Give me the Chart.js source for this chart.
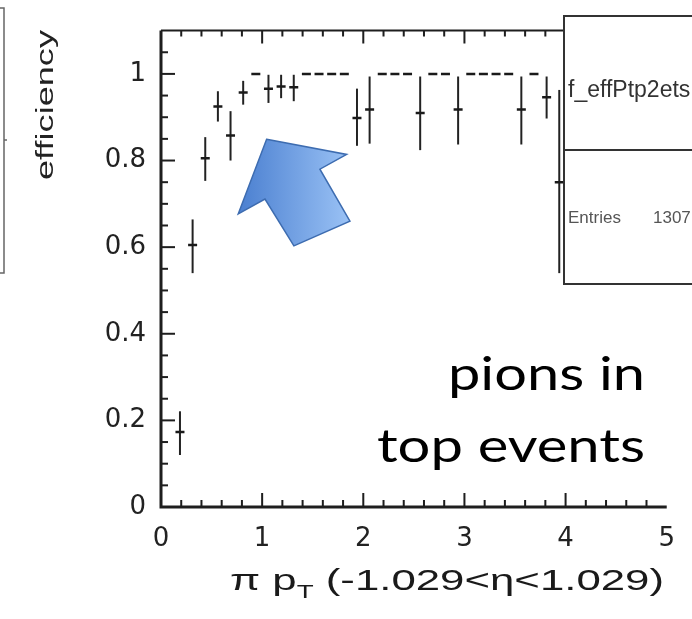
<!DOCTYPE html>
<html>
<head>
<meta charset="utf-8">
<script src="https://cdn.jsdelivr.net/npm/chart.js@4.4.1/dist/chart.umd.min.js"></script>
<style>
  html, body { margin: 0; padding: 0; background: #fff; }
  #wrap { width: 692px; height: 619px; overflow: hidden; }
</style>
</head>
<body>
<div id="wrap"><canvas id="eff-chart" width="692" height="619"></canvas></div>
<script>
// pion pT bin centres and measured efficiency (with lower / upper error bounds)
const ptBins = [0.1875, 0.3125, 0.4375, 0.5625, 0.6875, 0.8125, 0.9375, 1.0625, 1.1875, 1.3125,
  1.4375, 1.5625, 1.6875, 1.8125, 1.9375, 2.0625, 2.1875, 2.3125, 2.4375, 2.5625,
  2.6875, 2.8125, 2.9375, 3.0625, 3.1875, 3.3125, 3.4375, 3.5625, 3.6875, 3.8125, 3.9375];
const efficiency = [0.173, 0.605, 0.805, 0.925, 0.858, 0.957, 1.0, 0.966, 0.971, 0.969,
  1.0, 1.0, 1.0, 1.0, 0.898, 0.918, 1.0, 1.0, 1.0, 0.910,
  1.0, 1.0, 0.918, 1.0, 1.0, 1.0, 1.0, 0.918, 1.0, 0.946, 0.750];
const effLow = [0.120, 0.540, 0.753, 0.890, 0.800, 0.929, 1.0, 0.933, 0.944, 0.937,
  1.0, 1.0, 1.0, 1.0, 0.834, 0.839, 1.0, 1.0, 1.0, 0.824,
  1.0, 1.0, 0.837, 1.0, 1.0, 1.0, 1.0, 0.837, 1.0, 0.897, 0.540];
const effHigh = [0.221, 0.664, 0.854, 0.960, 0.914, 0.984, 1.0, 0.998, 0.998, 0.998,
  1.0, 1.0, 1.0, 1.0, 0.966, 0.994, 1.0, 1.0, 1.0, 0.994,
  1.0, 1.0, 0.994, 1.0, 1.0, 1.0, 1.0, 0.994, 1.0, 0.994, 0.963];

const xTicks = [0, 1, 2, 3, 4, 5];
const xTickLabels = ['0', '1', '2', '3', '4', '5'];
const yTicks = [0, 0.2, 0.4, 0.6, 0.8, 1];
const yTickLabels = ['0', '0.2', '0.4', '0.6', '0.8', '1'];

// blue arrow annotation, in data units (pT, efficiency)
const arrowShape = [[1.044, 0.849], [1.835, 0.814], [1.571, 0.780], [1.868, 0.660],
  [1.314, 0.603], [1.028, 0.711], [0.764, 0.677]];

const labelFont = '"Liberation Sans", Arial, sans-serif';
const tickFont = '"DejaVu Sans", "Liberation Sans", sans-serif';

// frame with ROOT style inward ticks
const rootFrame = {
  id: 'rootFrame',
  beforeDatasetsDraw(chart) {
    const { ctx, chartArea: a, scales: { x, y } } = chart;
    ctx.save();
    ctx.strokeStyle = '#1e1e1e';
    ctx.lineWidth = 2;
    ctx.beginPath();
    ctx.moveTo(a.left, a.top); ctx.lineTo(a.right, a.top);
    ctx.stroke();
    ctx.lineWidth = 3;
    ctx.beginPath();
    ctx.moveTo(a.left, a.top); ctx.lineTo(a.left, a.bottom); ctx.lineTo(a.right, a.bottom);
    ctx.stroke();

    ctx.lineWidth = 2;
    for (let i = 1; i < 25; i++) {
      const px = x.getPixelForValue(i * 0.2);
      const len = i % 5 === 0 ? 14 : 7;
      ctx.beginPath();
      ctx.moveTo(px, a.bottom); ctx.lineTo(px, a.bottom - len);
      ctx.moveTo(px, a.top); ctx.lineTo(px, a.top + len - 1);
      ctx.stroke();
    }
    for (let i = 1; i < 22; i++) {
      const py = y.getPixelForValue(i * 0.05);
      const len = i % 4 === 0 ? 14 : 7;
      ctx.beginPath();
      ctx.moveTo(a.left, py); ctx.lineTo(a.left + len, py);
      ctx.stroke();
    }
    ctx.restore();
  }
};

// vertical error bars
const errorBars = {
  id: 'errorBars',
  beforeDatasetsDraw(chart) {
    const { ctx, scales: { x, y } } = chart;
    ctx.save();
    ctx.strokeStyle = '#222';
    ctx.lineWidth = 2;
    ptBins.forEach((v, i) => {
      if (effHigh[i] - effLow[i] <= 0) return;
      const px = x.getPixelForValue(v);
      ctx.beginPath();
      ctx.moveTo(px, y.getPixelForValue(effLow[i]));
      ctx.lineTo(px, y.getPixelForValue(effHigh[i]));
      ctx.stroke();
    });
    ctx.restore();
  }
};

function stretchedText(ctx, text, left, base, width, font) {
  ctx.font = font;
  const w = ctx.measureText(text).width;
  ctx.save();
  ctx.translate(left, base);
  ctx.scale(width / w, 1);
  ctx.textAlign = 'left';
  ctx.textBaseline = 'alphabetic';
  ctx.fillText(text, 0, 0);
  ctx.restore();
}

// arrow, caption, stats box and axis titles
const overlay = {
  id: 'overlay',
  afterDraw(chart) {
    const { ctx, scales: { x, y } } = chart;
    ctx.save();

    // x axis title with subscript T
    ctx.fillStyle = '#1a1a1a';
    const f1 = '30px ' + labelFont, f2 = '19px ' + labelFont;
    const parts = [['\u03c0 p', f1, 0], ['T', f2, 8], [' (-1.029<\u03b7<1.029)', f1, 0]];
    let total = 0;
    parts.forEach(p => { ctx.font = p[1]; total += ctx.measureText(p[0]).width; });
    const sx = 434 / total;
    ctx.translate(230, 590);
    ctx.scale(sx, 1);
    let cx = 0;
    parts.forEach(p => {
      ctx.font = p[1];
      ctx.fillText(p[0], cx, p[2]);
      cx += ctx.measureText(p[0]).width;
    });
    ctx.restore();

    // y axis title, rotated, top aligned
    ctx.save();
    ctx.fillStyle = '#222';
    ctx.translate(53, 180);
    ctx.rotate(-Math.PI / 2);
    stretchedText(ctx, 'efficiency', 0, 0, 150, '23px ' + labelFont);
    ctx.restore();

    // blue arrow
    ctx.save();
    const pts = arrowShape.map(p => [x.getPixelForValue(p[0]), y.getPixelForValue(p[1])]);
    const g = ctx.createLinearGradient(pts[6][0], 0, pts[1][0], 0);
    g.addColorStop(0, '#4a7fd0');
    g.addColorStop(1, '#98c0f4');
    ctx.beginPath();
    pts.forEach((p, i) => i ? ctx.lineTo(p[0], p[1]) : ctx.moveTo(p[0], p[1]));
    ctx.closePath();
    ctx.fillStyle = g;
    ctx.fill();
    ctx.strokeStyle = '#3d6cb0';
    ctx.lineWidth = 1.5;
    ctx.stroke();
    ctx.restore();

    // caption
    ctx.save();
    ctx.fillStyle = '#000';
    stretchedText(ctx, 'pions in', 448, 390, 197, '46px Lato, "Open Sans", sans-serif');
    stretchedText(ctx, 'top events', 377, 462, 268, '46px Lato, "Open Sans", sans-serif');
    ctx.restore();

    // stats box
    ctx.save();
    ctx.fillStyle = '#fff';
    ctx.fillRect(564, 16, 140, 268);
    ctx.strokeStyle = '#333';
    ctx.lineWidth = 2;
    ctx.strokeRect(564, 16, 140, 268);
    ctx.beginPath();
    ctx.moveTo(564, 150); ctx.lineTo(692, 150);
    ctx.stroke();
    ctx.fillStyle = '#333';
    ctx.textBaseline = 'alphabetic';
    ctx.font = '23px ' + labelFont;
    ctx.fillText('f_effPtp2ets', 568, 97);
    ctx.font = '17px ' + labelFont;
    ctx.fillStyle = '#555';
    ctx.fillText('Entries', 568, 223);
    ctx.fillText('1307', 653, 223);

    // edge of neighbouring pad on the left
    ctx.strokeStyle = '#666';
    ctx.lineWidth = 1.5;
    ctx.beginPath();
    ctx.moveTo(-2, 8); ctx.lineTo(4, 8); ctx.lineTo(4, 273); ctx.lineTo(-2, 273);
    ctx.moveTo(4, 140); ctx.lineTo(7, 140);
    ctx.stroke();
    ctx.restore();
  }
};

const ctx = document.getElementById('eff-chart').getContext('2d');
const effChart = new Chart(ctx, {
  type: 'scatter',
  data: {
    datasets: [{
      label: 'f_effPtp2ets',
      data: ptBins.map((v, i) => ({ x: v, y: efficiency[i] })),
      pointStyle: 'line',
      pointRadius: 4.5,
      borderWidth: 2.5,
      borderColor: '#1a1a1a',
      backgroundColor: '#1a1a1a',
      showLine: false
    }]
  },
  options: {
    responsive: false,
    animation: false,
    devicePixelRatio: 1,
    layout: { padding: { top: 28, right: 25, left: 0, bottom: 0 } },
    plugins: { legend: { display: false }, tooltip: { enabled: false } },
    scales: {
      x: {
        type: 'linear',
        min: 0,
        max: 5,
        grid: { display: false, drawTicks: false },
        border: { display: false },
        afterBuildTicks: s => { s.ticks = xTicks.map(v => ({ value: v })); },
        afterFit: s => { s.height = 112; },
        ticks: {
          font: { family: tickFont, size: 26 },
          color: '#222',
          padding: 17,
          maxRotation: 0,
          autoSkip: false,
          callback: (v, i) => xTickLabels[i]
        }
      },
      y: {
        type: 'linear',
        min: 0,
        max: 1.1,
        grid: { display: false, drawTicks: false },
        border: { display: false },
        afterBuildTicks: s => { s.ticks = yTicks.map(v => ({ value: v })); },
        afterFit: s => { s.width = 161; },
        ticks: {
          font: { family: tickFont, size: 26 },
          color: '#222',
          padding: 15,
          autoSkip: false,
          callback: (v, i) => yTickLabels[i]
        }
      }
    }
  },
  plugins: [rootFrame, errorBars, overlay]
});
</script>
</body>
</html>
